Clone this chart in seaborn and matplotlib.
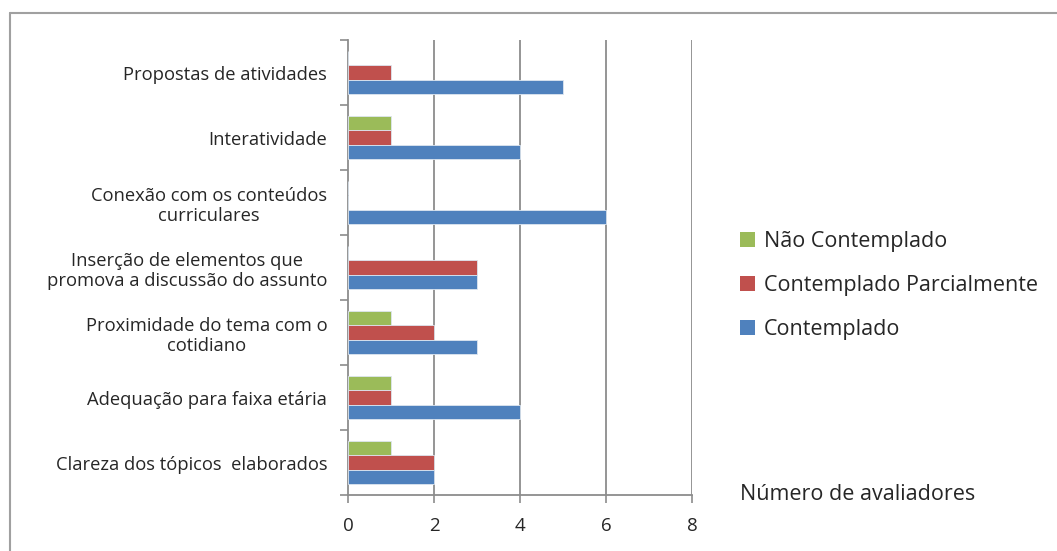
import matplotlib
matplotlib.use("Agg")
import matplotlib.pyplot as plt
import seaborn as sns
import pandas as pd
from matplotlib.lines import Line2D
from matplotlib.patches import Patch

categories = [
    "Propostas de atividades",
    "Interatividade",
    "Conexão com os conteúdos\ncurriculares",
    "Inserção de elementos que\npromova a discussão do assunto",
    "Proximidade do tema com o\ncotidiano",
    "Adequação para faixa etária",
    "Clareza dos tópicos  elaborados",
]
series = ["Não Contemplado", "Contemplado Parcialmente", "Contemplado"]
nao_contemplado = [0, 1, 0, 0, 1, 1, 1]
contemplado_parcialmente = [1, 1, 0, 3, 2, 1, 2]
contemplado = [5, 4, 6, 3, 3, 4, 2]
x_ticks = [0, 2, 4, 6, 8]
colors = ["#9BBB59", "#C0504D", "#4F81BD"]

rows = []
for s, vals in zip(series, [nao_contemplado, contemplado_parcialmente, contemplado]):
    for c, v in zip(categories, vals):
        rows.append({"categoria": c, "serie": s, "valor": v})
df = pd.DataFrame(rows)

sns.set_style("white")
plt.rcParams["font.family"] = ["Open Sans", "DejaVu Sans"]

fig = plt.figure(figsize=(10.57, 5.51), dpi=100)
ax = fig.add_axes([348/1057, 1-495/551, (692-348)/1057, (495-40)/551])

sns.barplot(data=df, y="categoria", x="valor", hue="serie", order=categories,
            hue_order=series, palette=colors, saturation=1, orient="h", width=0.66,
            edgecolor="#dde6f0", linewidth=0.6, ax=ax, legend=False, zorder=3)

ax.set_xlim(0, 8)
ax.set_xticks(x_ticks)
ax.set_xticklabels([str(t) for t in x_ticks], fontsize=13.5)
ax.set_ylim(len(categories)-0.5, -0.5)
ax.set_yticks([i - 0.5 for i in range(len(categories)+1)], minor=False)
ax.set_yticklabels([""] * (len(categories)+1))
ax.set_yticks(range(len(categories)), minor=True)
ax.set_yticklabels(categories, minor=True, fontsize=13.2, multialignment="center")
ax.tick_params(axis="y", which="minor", left=False, length=0, pad=15)
ax.tick_params(axis="y", which="major", left=True, length=6, width=1.2, color="#8c8c8c", direction="out")
ax.tick_params(axis="x", bottom=True, length=6, width=1.2, color="#8c8c8c", direction="out", pad=10)
ax.set_xlabel("")
ax.set_ylabel("")

for t in x_ticks[1:]:
    ax.axvline(t, color="#8c8c8c", linewidth=1.3, zorder=1)
for sp in ["top", "right"]:
    ax.spines[sp].set_visible(False)
for sp in ["left", "bottom"]:
    ax.spines[sp].set_color("#8c8c8c")
    ax.spines[sp].set_linewidth(1.3)

handles = [Patch(facecolor=c, edgecolor="none") for c in colors]
fig.legend(handles, series, loc="upper left", bbox_to_anchor=(721/1057, 1-212/551),
           frameon=False, fontsize=15.5, handlelength=0.7, handleheight=0.7,
           handletextpad=0.4, labelspacing=1.05)

fig.text(740/1057, 1-495/551, "Número de avaliadores", fontsize=15.5, va="center", ha="left")

fig.add_artist(Line2D([10/1057, 1], [1-13/551, 1-13/551], color="#a0a0a0", linewidth=1.5,
                      transform=fig.transFigure))
fig.add_artist(Line2D([10/1057, 10/1057], [0, 1-13/551], color="#a0a0a0", linewidth=1.5,
                      transform=fig.transFigure))

fig.savefig("out.png", dpi=100, facecolor="white")
